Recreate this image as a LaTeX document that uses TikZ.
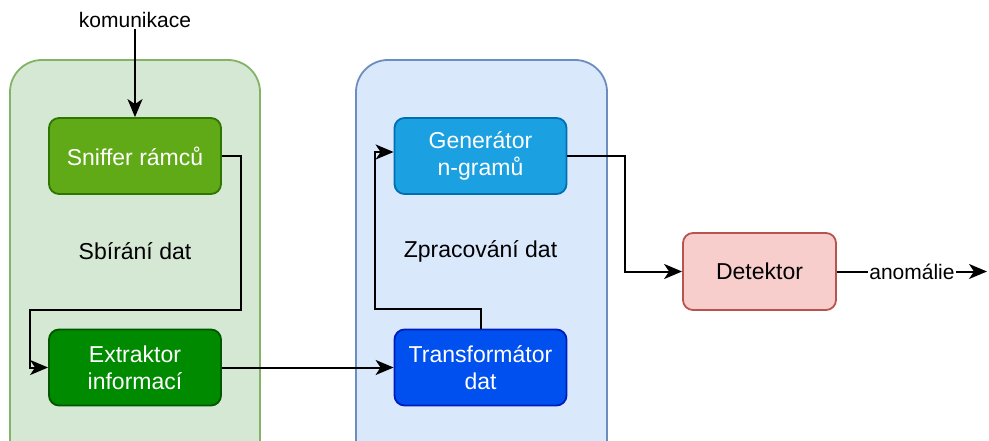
\documentclass[tikz,border=0pt]{standalone}
\usepackage{fontspec}
\setmainfont{Liberation Sans}
\usetikzlibrary{arrows.meta}

\definecolor{sberfill}{HTML}{D5E8D4}
\definecolor{sberline}{HTML}{82B366}
\definecolor{zpracfill}{HTML}{DAE8FC}
\definecolor{zpracline}{HTML}{6C8EBF}
\definecolor{snifffill}{HTML}{60A917}
\definecolor{sniffline}{HTML}{2D7600}
\definecolor{extrfill}{HTML}{008A00}
\definecolor{extrline}{HTML}{005700}
\definecolor{genfill}{HTML}{1BA1E2}
\definecolor{genline}{HTML}{006EAF}
\definecolor{transfill}{HTML}{0050EF}
\definecolor{transline}{HTML}{001DBC}
\definecolor{detfill}{HTML}{F8CECC}
\definecolor{detline}{HTML}{B85450}

\tikzset{
	group/.style={rounded corners=32pt, line width=1.8pt},
	block/.style={rectangle, rounded corners=10pt, line width=1.8pt, text=white,
		minimum width=172pt, minimum height=76pt, align=center,
		font=\fontsize{23}{27}\selectfont},
	flow/.style={line width=2pt, -{Stealth[length=18pt,width=15pt,inset=5pt]}},
	lbl/.style={font=\fontsize{21}{25}\selectfont, inner sep=1pt}
}

\begin{document}
\begin{tikzpicture}[x=1pt, y=-1pt]
		\clip (0,0) rectangle (989,441);

		% the two stages
		\draw [group, fill=sberfill, draw=sberline](10,60) rectangle (260,490);
		\draw [group, fill=zpracfill, draw=zpracline](356,60) rectangle (607,490);
		\node (sber)[font=\fontsize{23}{27}\selectfont]at (135,251)  {Sbírání dat};
		\node (zprac)[font=\fontsize{23}{27}\selectfont]at (480.5,251)  {Zpracování dat};

		\node (kom)[lbl]at (135,20)  {komunikace};
		\node (sniff)[block, fill=snifffill, draw=sniffline]at (135,156)  {Sniffer rámců};
		\node (extr)[block, fill=extrfill, draw=extrline]at (135,367.5)  {Extraktor\\informací};
		\node (gen)[block, fill=genfill, draw=genline]at (480.5,156)  {Generátor\\n-gramů};
		\node (trans)[block, fill=transfill, draw=transline]at (480.5,367.5)  {Transformátor\\dat};
		\node (det)[block, fill=detfill, draw=detline, text=black, minimum width=153pt, minimum height=77pt]at (759.5,271.5)  {Detektor};
		\coordinate (out) at (987,271.5);

		\draw [flow](kom.south)--(sniff.north);
		\draw [flow](sniff.east)--(241,156)--(241,310)--(30,310)--(30,367.5)--(extr.west);
		\draw [flow](extr.east)--(trans.west);
		\draw [flow](trans.north)--(480.5,309)--(375,309)--(375,152)--([yshift=4pt]gen.west);
		\draw [flow](gen.east)--(625,156)|-(det.west);
		\draw [flow](det.east)--(out) node[lbl, midway, fill=white]{anomálie};
	\end{tikzpicture}
\end{document}
